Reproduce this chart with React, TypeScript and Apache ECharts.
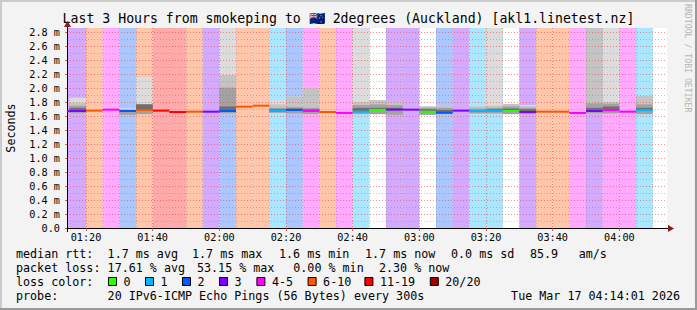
import React, { useEffect, useRef } from "react";
import * as echarts from "echarts";

// ---------- data ----------
const stepTimes = ["01:10","01:15","01:20","01:25","01:30","01:35","01:40","01:45","01:50","01:55","02:00","02:05","02:10","02:15","02:20","02:25","02:30","02:35","02:40","02:45","02:50","02:55","03:00","03:05","03:10","03:15","03:20","03:25","03:30","03:35","03:40","03:45","03:50","03:55","04:00","04:05"];
// index into lossLabels / lossColors
const lossIdx = [3,3,5,4,2,5,6,6,5,3,2,5,5,1,2,4,5,4,1,0,3,3,0,2,3,1,1,0,3,5,5,4,3,4,4,1];
// median rtt in ms
const medianMs = [1.675,1.675,1.68,1.694,1.675,1.69,1.68,1.66,1.665,1.665,1.675,1.737,1.751,1.675,1.69,1.675,1.66,1.647,1.665,1.69,1.694,1.694,1.665,1.65,1.68,1.675,1.675,1.675,1.66,1.665,1.665,1.646,1.675,1.686,1.665,1.686];
const N = null;
// smoke bands (ms): outer top, upper, inner, core top, bottom
const smokeTop    = [N,1.865,N,N,1.715,2.166,N,N,N,N,3.5,N,N,1.83,1.88,2.0,N,N,3.5,1.83,1.80,N,1.74,1.75,N,1.74,3.5,1.775,1.76,N,N,N,3.5,3.5,N,1.894];
const smokeUpper  = [N,1.79,N,N,1.70,1.77,N,N,N,N,2.19,N,N,1.77,1.88,2.0,N,N,1.80,1.83,1.80,N,1.74,1.75,N,1.74,1.75,1.775,1.745,N,N,N,3.5,1.80,N,1.894];
const smokeInner  = [N,1.75,N,N,1.69,1.77,N,N,N,N,2.01,N,N,1.72,1.73,1.72,N,N,1.76,1.77,1.76,N,1.72,1.72,N,1.71,1.72,1.74,1.72,N,N,N,1.785,1.78,N,1.77];
const smokeCore   = [N,1.72,N,N,1.685,1.77,N,N,N,N,1.74,N,N,1.70,1.71,1.70,N,N,1.72,1.72,1.72,N,1.70,1.69,N,1.69,1.70,1.71,1.70,N,N,N,1.72,1.74,N,1.72];
const smokeBottom = [N,1.64,N,N,1.62,1.63,N,N,N,N,1.64,N,N,1.65,1.64,1.63,N,N,1.63,1.63,1.62,N,1.62,1.63,N,1.64,1.64,1.63,1.63,N,N,N,1.64,1.64,N,1.63];

const lossLabels = ["0","1","2","3","4-5","6-10","11-19","20/20"];
const lossColors = ["#26ff00","#00b8ff","#0059ff","#7e00ff","#ff00ff","#ff5500","#ff0000","#a10000"];

const xTickLabels = ["01:20","01:40","02:00","02:20","02:40","03:00","03:20","03:40","04:00"];
const yTickValues = [0,0.2,0.4,0.6,0.8,1.0,1.2,1.4,1.6,1.8,2.0,2.2,2.4,2.6,2.8];

const titleText = "Last 3 Hours from smokeping to 🇳🇿 2degrees (Auckland) [akl1.linetest.nz]";
const medianStats = ["1.7 ms avg","1.7 ms max","1.6 ms min","1.7 ms now","0.0 ms sd","85.9","am/s"];
const lossStats = ["17.61 % avg","53.15 % max","0.00 % min","2.30 % now"];
const probeText = "20 IPv6-ICMP Echo Pings (56 Bytes) every 300s";
const dateText = "Tue Mar 17 04:14:01 2026";

// ---------- layout / style ----------
const W = 697, H = 310;
const GRID = { left: 67, top: 28, width: 600, height: 200 };
const STEP_MIN = 5;
const X_MIN = 74.3, X_MAX = 254.3, Y_MAX = 2.863;
const MONO = '"DejaVu Sans Mono", monospace';
const smokeColors = ["#dcdcdc", "#c4c4c4", "#a2a2a2", "#6e6e6e"];

const toMin = (s: string) => { const [h, m] = s.split(":").map(Number); return h * 60 + m; };
const fmtTime = (v: number) => {
  const t = Math.round(v);
  const h = Math.floor(t / 60), m = t % 60;
  return `${String(h).padStart(2, "0")}:${String(m).padStart(2, "0")}`;
};
const tint = (hex: string, a: number) => {
  const r = parseInt(hex.slice(1, 3), 16), g = parseInt(hex.slice(3, 5), 16), b = parseInt(hex.slice(5, 7), 16);
  const f = (c: number) => Math.round(255 - a * (255 - c));
  return `rgb(${f(r)},${f(g)},${f(b)})`;
};

function clipRect(params: any, api: any, x0: number, x1: number, y0: number, y1: number) {
  const a = api.coord([x0, y1]);
  const b = api.coord([x1, y0]);
  const cs = params.coordSys;
  return echarts.graphic.clipRectByRect(
    { x: a[0], y: a[1], width: b[0] - a[0], height: b[1] - a[1] },
    { x: cs.x, y: cs.y, width: cs.width, height: cs.height }
  );
}

function buildOption() {
  const stepStart = stepTimes.map(toMin);
  const majorX = xTickLabels.map(toMin);
  const minorX = [...stepStart, stepStart[stepStart.length - 1] + STEP_MIN]
    .filter((v) => v > X_MIN && v < X_MAX && !majorX.includes(v));
  const minorY = yTickValues.map((v) => Math.round((v + 0.1) * 10) / 10).filter((v) => v < Y_MAX);

  const bandData = stepStart
    .map((s, i) => [s, s + STEP_MIN, lossIdx[i]])
    .filter((d) => d[2] !== 0);

  const smokeData: number[][] = [];
  [smokeTop, smokeUpper, smokeInner, smokeCore].forEach((arr, layer) => {
    arr.forEach((hi, i) => {
      if (hi == null) return;
      const lo = layer === 3 ? medianMs[i] : (smokeBottom[i] as number);
      smokeData.push([stepStart[i], stepStart[i] + STEP_MIN, lo, hi as number, layer]);
    });
  });

  const medianData = stepStart.map((s, i) => [s, s + STEP_MIN, medianMs[i], lossIdx[i]]);

  const txt = (text: string, x: number, y: number, extra: any = {}) => ({
    type: "text",
    x, y,
    silent: true,
    z: 10,
    style: {
      text,
      font: `11.7px ${MONO}`,
      fill: "#000",
      align: "left",
      textAlign: "left",
      verticalAlign: "middle",
      textVerticalAlign: "middle",
      ...extra,
    },
  });

  const legendBoxX = [108, 145, 182, 219, 256.4, 307.6, 364.4, 429.8];
  const medianX = [107.6, 192, 279, 365, 451, 530, 578.7];
  const lossX = [107.6, 197, 293.3, 379];

  const graphic: any[] = [
    // 3D frame
    { type: "rect", shape: { x: 0, y: 0, width: W, height: 2 }, style: { fill: "#cbcbcb" }, silent: true },
    { type: "rect", shape: { x: 0, y: 0, width: 2, height: H }, style: { fill: "#cbcbcb" }, silent: true },
    { type: "rect", shape: { x: W - 2, y: 0, width: 2, height: H }, style: { fill: "#999999" }, silent: true },
    { type: "rect", shape: { x: 0, y: H - 2, width: W, height: 2 }, style: { fill: "#999999" }, silent: true },
    // title
    txt(titleText, W / 2, 18.5, { font: `13.2px ${MONO}`, align: "center", textAlign: "center" }),
    // watermark
    { ...txt("RRDTOOL / TOBI OETIKER", 688, 4, { font: `8.2px ${MONO}`, fill: "#b5b5b5" }), rotation: -Math.PI / 2 },
    // y unit
    { ...txt("Seconds", 11, 128, { align: "center", textAlign: "center" }), rotation: Math.PI / 2 },
    // axis extensions / arrows
    { type: "line", shape: { x1: 667, y1: 228.5, x2: 669, y2: 228.5 }, style: { stroke: "#000", lineWidth: 1 }, silent: true, z: 10 },
    { type: "polygon", shape: { points: [[668, 225], [668, 232], [674, 228.5]] }, style: { fill: "#8b1a1a" }, silent: true, z: 10 },
    { type: "line", shape: { x1: 67.5, y1: 28, x2: 67.5, y2: 25 }, style: { stroke: "#000", lineWidth: 1 }, silent: true, z: 10 },
    { type: "polygon", shape: { points: [[64, 27], [71, 27], [67.5, 21]] }, style: { fill: "#8b1a1a" }, silent: true, z: 10 },
    { type: "line", shape: { x1: 67.5, y1: 228, x2: 67.5, y2: 232 }, style: { stroke: "#000", lineWidth: 1 }, silent: true, z: 10 },
    // legend lines
    txt("median rtt:", 16, 254),
    ...medianStats.map((s, i) => txt(s, medianX[i], 254)),
    txt("packet loss:", 16, 268),
    ...lossStats.map((s, i) => txt(s, lossX[i], 268)),
    txt("loss color:", 16, 282),
    ...lossLabels.map((l, i) => ({
      type: "rect",
      shape: { x: legendBoxX[i] + 0.5, y: 277.5, width: 8, height: 8 },
      style: { fill: lossColors[i], stroke: "#000", lineWidth: 1 },
      silent: true,
      z: 10,
    })),
    ...lossLabels.map((l, i) => txt(l, legendBoxX[i] + 15.5, 282)),
    txt("probe:", 16, 296),
    txt(probeText, 107.6, 296),
    txt(dateText, 680, 296, { align: "right", textAlign: "right" }),
  ];

  const majorLine = { color: "rgba(225,70,70,0.6)", type: [1, 2] as any, width: 1 };
  const minorLine = { color: "rgba(120,120,120,0.4)", type: [1, 2] as any, width: 1 };

  return {
    animation: false,
    backgroundColor: "#f3f3f3",
    grid: { ...GRID, show: true, backgroundColor: "#ffffff", borderWidth: 0, containLabel: false },
    xAxis: [
      {
        type: "value", min: X_MIN, max: X_MAX, position: "bottom", z: 3,
        axisLine: { show: true, onZero: false, lineStyle: { color: "#000", width: 1 } },
        axisTick: { show: true, customValues: majorX, length: 3, lineStyle: { color: "rgba(200,60,60,0.8)" } },
        axisLabel: { show: true, customValues: majorX, formatter: (v: number) => fmtTime(v), color: "#000", fontFamily: MONO, fontSize: 10.2, margin: 4 },
        splitLine: { show: true, lineStyle: majorLine },
      },
      {
        type: "value", min: X_MIN, max: X_MAX, position: "top", z: 3,
        axisLine: { show: false },
        axisTick: { show: false, customValues: minorX },
        axisLabel: { show: false, customValues: minorX },
        splitLine: { show: true, lineStyle: minorLine },
      },
    ],
    yAxis: [
      {
        type: "value", min: 0, max: Y_MAX, position: "left", z: 3,
        axisLine: { show: true, onZero: false, lineStyle: { color: "#000", width: 1 } },
        axisTick: { show: true, customValues: yTickValues, length: 2, lineStyle: { color: "rgba(200,60,60,0.8)" } },
        axisLabel: {
          show: true, customValues: yTickValues,
          formatter: (v: number) => (Math.abs(v) < 1e-9 ? "0.0" : v.toFixed(1) + " m"),
          color: "#000", fontFamily: MONO, fontSize: 10.2, margin: 7,
        },
        splitLine: { show: true, lineStyle: majorLine },
      },
      {
        type: "value", min: 0, max: Y_MAX, position: "right", z: 3,
        axisLine: { show: false },
        axisTick: { show: false, customValues: minorY },
        axisLabel: { show: false, customValues: minorY },
        splitLine: { show: true, lineStyle: minorLine },
      },
    ],
    series: [
      {
        type: "custom", name: "loss", xAxisIndex: 0, yAxisIndex: 0, z: 1, silent: true,
        data: bandData,
        renderItem: (params: any, api: any) => {
          const r = clipRect(params, api, api.value(0), api.value(1), 0, Y_MAX);
          if (!r) return null;
          return { type: "rect", shape: r, style: { fill: tint(lossColors[api.value(2)], 1 / 3) } };
        },
      },
      {
        type: "custom", name: "smoke", xAxisIndex: 0, yAxisIndex: 0, z: 2, silent: true,
        data: smokeData,
        renderItem: (params: any, api: any) => {
          const r = clipRect(params, api, api.value(0), api.value(1), api.value(2), api.value(3));
          if (!r) return null;
          return { type: "rect", shape: r, style: { fill: smokeColors[api.value(4)] } };
        },
      },
      {
        type: "custom", name: "median", xAxisIndex: 0, yAxisIndex: 0, z: 4, silent: true,
        data: medianData,
        renderItem: (params: any, api: any) => {
          const a = api.coord([api.value(0), api.value(2)]);
          const b = api.coord([api.value(1), api.value(2)]);
          const cs = params.coordSys;
          const r = echarts.graphic.clipRectByRect(
            { x: a[0], y: a[1] - 1, width: b[0] - a[0], height: 2 },
            { x: cs.x, y: cs.y, width: cs.width, height: cs.height }
          );
          if (!r) return null;
          return { type: "rect", shape: r, style: { fill: lossColors[api.value(3)] } };
        },
      },
    ],
    graphic,
  };
}

export default function App() {
  const ref = useRef<HTMLDivElement>(null);
  useEffect(() => {
    if (!ref.current) return;
    const chart = echarts.init(ref.current, null, { renderer: "svg" });
    chart.setOption(buildOption() as any);
    return () => chart.dispose();
  }, []);
  return <div ref={ref} style={{ position: "fixed", left: 0, top: 0, width: W, height: H }} />;
}
